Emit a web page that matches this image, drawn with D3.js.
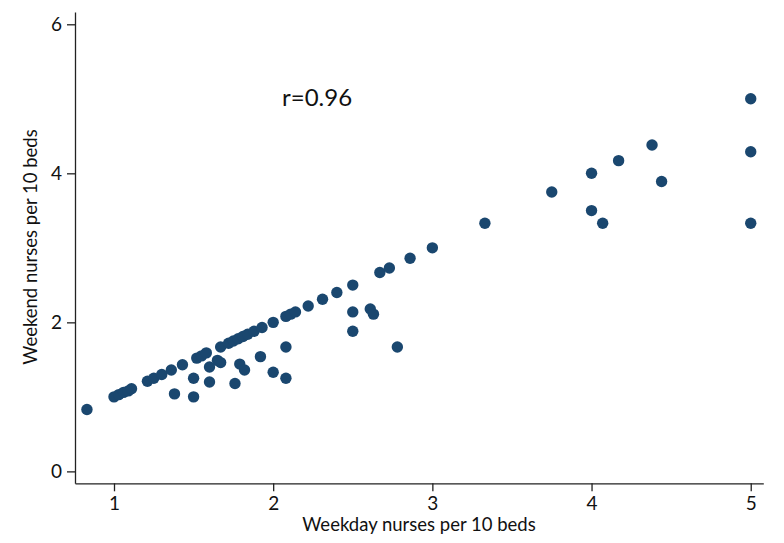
<html>

<head>
    <title>Weekday vs weekend nurses</title>
    <script src="https://d3js.org/d3.v7.min.js"></script>
    <style>
        body { margin: 0; background: #fff; }
        text { font-family: Lato, "Open Sans", sans-serif; }
    </style>
</head>

<body>
    <script>
        const weekday = [0.83, 1.00, 1.03, 1.06, 1.09, 1.11, 1.21, 1.25, 1.30, 1.36,
            1.43, 1.52, 1.55, 1.58, 1.67, 1.72, 1.75, 1.78, 1.81, 1.84,
            1.88, 1.93, 2.00, 2.08, 2.11, 2.14, 2.22, 2.31, 2.40, 2.50,
            2.67, 2.73, 2.86, 3.00, 3.33, 3.75, 4.00, 4.17, 4.38, 5.00,
            1.38, 1.50, 1.50, 1.60, 1.60, 1.65, 1.67, 1.76, 1.79, 1.82,
            1.92, 2.00, 2.08, 2.08, 2.50, 2.50, 2.61, 2.63, 2.78, 4.00,
            4.07, 4.44, 5.00, 5.00]
        const weekend = [0.83, 1.00, 1.03, 1.06, 1.08, 1.11, 1.21, 1.25, 1.30, 1.36,
            1.43, 1.52, 1.55, 1.59, 1.67, 1.72, 1.75, 1.78, 1.81, 1.84,
            1.88, 1.93, 2.00, 2.08, 2.11, 2.14, 2.22, 2.31, 2.40, 2.50,
            2.67, 2.73, 2.86, 3.00, 3.33, 3.75, 4.00, 4.17, 4.38, 5.00,
            1.04, 1.00, 1.25, 1.20, 1.40, 1.49, 1.46, 1.18, 1.44, 1.36,
            1.54, 1.33, 1.67, 1.25, 2.14, 1.88, 2.18, 2.11, 1.67, 3.50,
            3.33, 3.89, 4.29, 3.33]
        const xTicks = [1, 2, 3, 4, 5]
        const yTicks = [0, 2, 4, 6]
        const corrLabel = 'r=0.96'

        const svg = d3.select('body').append('svg')
            .attr('width', 784)
            .attr('height', 543)

        const x = d3.scaleLinear()
            .domain([0.755, 5.079])
            .range([75, 763.3])

        const y = d3.scaleLinear()
            .domain([-0.16, 6.165])
            .range([483.3, 12])

        const xAxis = svg.append('g')
            .attr('transform', 'translate(0,' + y.range()[0] + ')')
            .call(d3.axisBottom(x).tickValues(xTicks).tickFormat(d3.format('d'))
                .tickSize(8).tickSizeOuter(0).tickPadding(5))

        const yAxis = svg.append('g')
            .attr('transform', 'translate(' + x.range()[0] + ',0)')
            .call(d3.axisLeft(y).tickValues(yTicks).tickFormat(d3.format('d'))
                .tickSize(8).tickSizeOuter(0).tickPadding(5))

        svg.selectAll('.domain, .tick line')
            .attr('stroke', '#222')
            .attr('stroke-width', 1.3)

        svg.selectAll('.tick text')
            .attr('font-family', 'Lato, sans-serif')
            .attr('font-size', 19)
            .attr('fill', '#111')

        svg.append('text')
            .attr('x', 419)
            .attr('y', 531)
            .attr('text-anchor', 'middle')
            .attr('font-size', 18.5)
            .attr('fill', '#111')
            .text('Weekday nurses per 10 beds')

        svg.append('text')
            .attr('transform', 'translate(37,247) rotate(-90)')
            .attr('text-anchor', 'middle')
            .attr('font-size', 18.5)
            .attr('fill', '#111')
            .text('Weekend nurses per 10 beds')

        svg.append('text')
            .attr('x', 282)
            .attr('y', 105.5)
            .attr('font-size', 24)
            .attr('fill', '#111')
            .text(corrLabel)

        svg.append('g')
            .selectAll('circle')
            .data(weekday)
            .enter()
            .append('circle')
            .attr('cx', d => x(d))
            .attr('cy', (d, i) => y(weekend[i]))
            .attr('r', 5.7)
            .attr('fill', '#1a476f')
    </script>
</body>

</html>
